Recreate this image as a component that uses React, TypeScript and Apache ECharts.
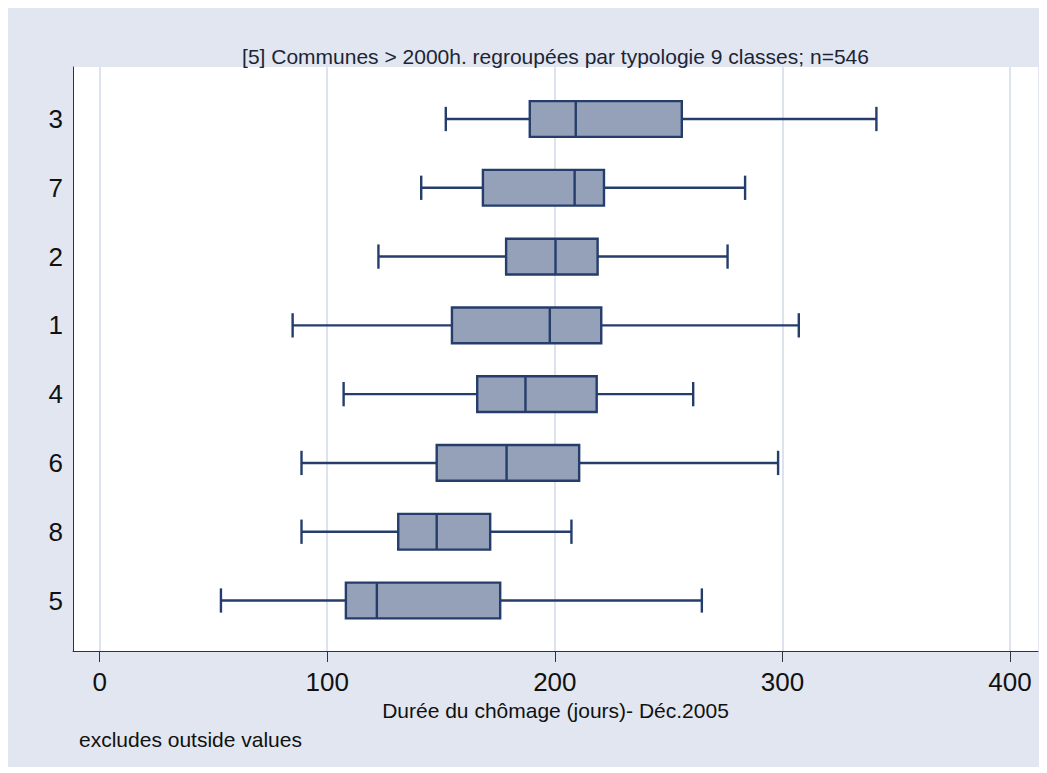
import React, { useEffect, useRef } from "react";
import * as echarts from "echarts";

// Categories (typologie classes), top to bottom
const categories = ["3", "7", "2", "1", "4", "6", "8", "5"];
// Box-plot statistics (days)
const whiskerLow = [152.1, 141.3, 122.5, 84.8, 107.2, 88.7, 88.7, 53.3];
const quartile1 = [189.0, 168.4, 178.6, 154.8, 165.9, 148.1, 131.2, 108.2];
const medians = [209.2, 208.7, 200.3, 197.8, 187.1, 178.8, 148.1, 121.8];
const quartile3 = [255.8, 221.6, 218.8, 220.4, 218.4, 210.7, 171.6, 176.0];
const whiskerHigh = [341.3, 283.6, 275.9, 307.2, 260.8, 298.1, 207.3, 264.6];
const xTicks = [0, 100, 200, 300, 400];

const titleText = "[5] Communes > 2000h. regroupées par typologie 9 classes; n=546";
const xTitle = "Durée du chômage (jours)- Déc.2005";
const noteText = "excludes outside values";

const BG = "#e1e6f0";
const GRID = "#dde3ee";
const FILL = "#95a1b9";
const STROKE = "#253d6b";
const TEXT = "#111111";
const FONT = "'Liberation Sans', Arial, sans-serif";

const X_MIN = -11.7;
const X_MAX = 412.3;

export default function App() {
  const ref = useRef<HTMLDivElement>(null);

  useEffect(() => {
    const prevOverflow = document.body.style.overflow;
    document.body.style.overflow = "hidden";
    const chart = echarts.init(ref.current!, undefined, { renderer: "svg" });
    const boxData = categories.map((_, i) => [
      i,
      whiskerLow[i],
      quartile1[i],
      medians[i],
      quartile3[i],
      whiskerHigh[i],
    ]);

    chart.setOption({
      animation: false,
      backgroundColor: BG,
      textStyle: { fontFamily: FONT },
      grid: [
        {
          left: 65,
          right: 9,
          top: 59,
          bottom: 116,
          show: true,
          backgroundColor: "#ffffff",
          borderWidth: 0,
          containLabel: false,
        },
        {
          left: 65,
          right: 9,
          top: 76.6,
          bottom: 132.1,
          containLabel: false,
        },
      ],
      xAxis: [
        {
          type: "value",
          gridIndex: 0,
          min: X_MIN,
          max: X_MAX,
          position: "bottom",
          axisLine: { show: true, onZero: false, lineStyle: { color: "#333333", width: 1 } },
          axisTick: {
            show: true,
            length: 11,
            customValues: xTicks,
            lineStyle: { color: "#333333", width: 1 },
          },
          axisLabel: {
            show: true,
            customValues: xTicks,
            margin: 18,
            fontSize: 26,
            color: TEXT,
            fontFamily: FONT,
          },
          splitLine: { show: true, lineStyle: { color: GRID, width: 2 } },
        },
        {
          type: "value",
          gridIndex: 1,
          min: X_MIN,
          max: X_MAX,
          show: false,
        },
      ],
      yAxis: [
        {
          type: "value",
          gridIndex: 0,
          min: 0,
          max: 1,
          axisLine: { show: true, onZero: false, lineStyle: { color: "#333333", width: 1 } },
          axisTick: { show: false },
          axisLabel: { show: false },
          splitLine: { show: false },
        },
        {
          type: "category",
          gridIndex: 1,
          data: categories,
          inverse: true,
          boundaryGap: true,
          axisLine: { show: false },
          axisTick: { show: false },
          axisLabel: { show: true, margin: 10, fontSize: 26, color: TEXT, fontFamily: FONT },
          splitLine: { show: false },
        },
      ],
      series: [
        {
          type: "custom",
          xAxisIndex: 1,
          yAxisIndex: 1,
          encode: { x: [1, 2, 3, 4, 5], y: 0 },
          data: boxData,
          renderItem: (_params: any, api: any) => {
            const c = api.value(0);
            const lo = api.coord([api.value(1), c]);
            const b1 = api.coord([api.value(2), c]);
            const md = api.coord([api.value(3), c]);
            const b3 = api.coord([api.value(4), c]);
            const hi = api.coord([api.value(5), c]);
            const band = api.size([0, 1])[1];
            const bh = band * 0.52;
            const ch = band * 0.353;
            const cy = lo[1];
            const ls = { stroke: STROKE, lineWidth: 2.4, lineCap: "butt" };
            return {
              type: "group",
              children: [
                { type: "line", shape: { x1: lo[0], y1: cy, x2: b1[0], y2: cy }, style: ls },
                { type: "line", shape: { x1: b3[0], y1: cy, x2: hi[0], y2: cy }, style: ls },
                { type: "line", shape: { x1: lo[0], y1: cy - ch / 2, x2: lo[0], y2: cy + ch / 2 }, style: ls },
                { type: "line", shape: { x1: hi[0], y1: cy - ch / 2, x2: hi[0], y2: cy + ch / 2 }, style: ls },
                {
                  type: "rect",
                  shape: { x: b1[0], y: cy - bh / 2, width: b3[0] - b1[0], height: bh },
                  style: { fill: FILL, stroke: STROKE, lineWidth: 2.4 },
                },
                { type: "line", shape: { x1: md[0], y1: cy - bh / 2, x2: md[0], y2: cy + bh / 2 }, style: ls },
              ],
            };
          },
        },
      ],
      graphic: [
        {
          type: "text",
          x: 547.5,
          y: 48,
          style: {
            text: titleText,
            fontSize: 21,
            fontFamily: FONT,
            fill: "#1c2536",
            textAlign: "center",
            textVerticalAlign: "middle",
          },
        },
        {
          type: "text",
          x: 547.5,
          y: 702,
          style: {
            text: xTitle,
            fontSize: 21,
            fontFamily: FONT,
            fill: TEXT,
            textAlign: "center",
            textVerticalAlign: "middle",
          },
        },
        {
          type: "text",
          x: 71,
          y: 731,
          style: {
            text: noteText,
            fontSize: 21,
            fontFamily: FONT,
            fill: TEXT,
            textAlign: "left",
            textVerticalAlign: "middle",
          },
        },
      ],
    });

    return () => {
      chart.dispose();
      document.body.style.overflow = prevOverflow;
    };
  }, []);

  return <div ref={ref} style={{ width: 1039, height: 759 }} />;
}
